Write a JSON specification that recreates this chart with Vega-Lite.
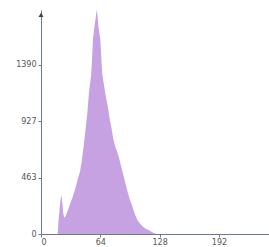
{
  "$schema": "https://vega.github.io/schema/vega-lite/v6.json",
  "width": 228,
  "height": 224,
  "autosize": {"type": "none"},
  "padding": {"left": 41, "top": 10, "right": 0, "bottom": 13},
  "background": "white",
  "config": {"view": {"stroke": null}, "axis": {"labelFont": "DejaVu Sans", "labelFontSize": 8, "labelColor": "#555555", "domainColor": "#6e7a92", "tickColor": "#6e7a92", "grid": false, "title": null, "format": "d"}},
  "datasets": {
    "hist": [
      {"v": 16, "n": 0}, {"v": 18, "n": 0}, {"v": 19, "n": 120}, {"v": 20, "n": 200}, {"v": 21, "n": 280},
      {"v": 22, "n": 320}, {"v": 23, "n": 250}, {"v": 24, "n": 170}, {"v": 25, "n": 135}, {"v": 26, "n": 140},
      {"v": 28, "n": 175}, {"v": 30, "n": 215}, {"v": 32, "n": 260}, {"v": 34, "n": 300}, {"v": 36, "n": 350},
      {"v": 38, "n": 400}, {"v": 40, "n": 460}, {"v": 42, "n": 510}, {"v": 44, "n": 600}, {"v": 46, "n": 720},
      {"v": 48, "n": 850}, {"v": 50, "n": 1000}, {"v": 52, "n": 1180}, {"v": 54, "n": 1300}, {"v": 55, "n": 1420},
      {"v": 56, "n": 1600}, {"v": 58, "n": 1720}, {"v": 60, "n": 1840}, {"v": 61, "n": 1790}, {"v": 62, "n": 1700},
      {"v": 64, "n": 1600}, {"v": 66, "n": 1320}, {"v": 68, "n": 1220}, {"v": 70, "n": 1130}, {"v": 72, "n": 1050},
      {"v": 74, "n": 950}, {"v": 76, "n": 870}, {"v": 78, "n": 780}, {"v": 80, "n": 720}, {"v": 82, "n": 680},
      {"v": 84, "n": 630}, {"v": 86, "n": 570}, {"v": 88, "n": 510}, {"v": 90, "n": 450}, {"v": 92, "n": 390},
      {"v": 94, "n": 330}, {"v": 96, "n": 280}, {"v": 98, "n": 240}, {"v": 100, "n": 190}, {"v": 102, "n": 150},
      {"v": 104, "n": 115}, {"v": 106, "n": 95}, {"v": 108, "n": 75}, {"v": 110, "n": 60}, {"v": 112, "n": 50},
      {"v": 114, "n": 40}, {"v": 116, "n": 32}, {"v": 118, "n": 25}, {"v": 120, "n": 15}, {"v": 122, "n": 8},
      {"v": 124, "n": 0}
    ],
    "arrow": [{"v": 0, "n": 1800}]
  },
  "layer": [
    {
      "data": {"name": "hist"},
      "mark": {"type": "area", "color": "#c7a2e3", "opacity": 1},
      "encoding": {
        "x": {"field": "v", "type": "quantitative", "scale": {"domain": [0, 246], "nice": false},
              "axis": {"values": [0, 64, 128, 192], "tickSize": 3, "labelPadding": 1}},
        "y": {"field": "n", "type": "quantitative", "scale": {"domain": [0, 1840], "nice": false},
              "axis": {"values": [0, 463, 927, 1390], "tickSize": 3, "labelPadding": 2}}
      }
    },
    {
      "data": {"name": "arrow"},
      "mark": {"type": "point", "shape": "triangle-up", "filled": true, "color": "#3b4250", "size": 25, "opacity": 1},
      "encoding": {
        "x": {"field": "v", "type": "quantitative"},
        "y": {"field": "n", "type": "quantitative"}
      }
    }
  ]
}
